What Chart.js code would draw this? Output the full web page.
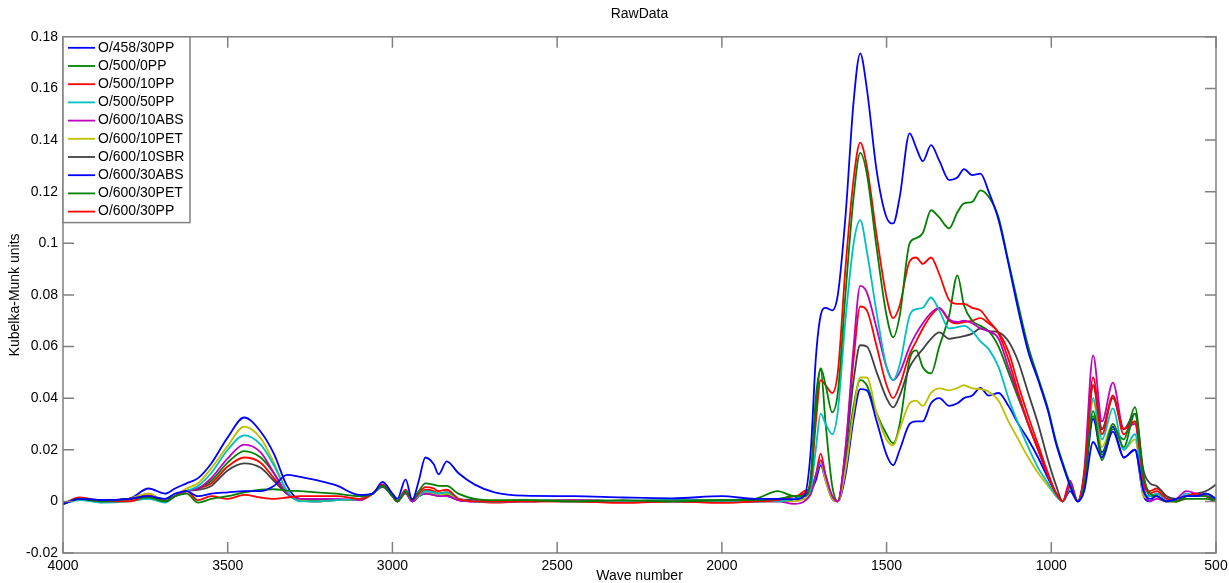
<!DOCTYPE html>
<html>
<head>
<meta charset="utf-8">
<title>RawData</title>
<script src="https://cdn.jsdelivr.net/npm/chart.js@4.4.0/dist/chart.umd.min.js"></script>
<style>
    html, body { margin: 0; padding: 0; background: #fff; }
    #chart_raw { display: block; }
</style>
</head>
<body>
<canvas id="chart_raw" width="1229" height="583"></canvas>
<script>
// Eixo x (numero de onda, decrescente) e eixo y
var waveNumbers = [4000, 3950, 3880, 3800, 3740, 3690, 3660, 3625, 3590, 3550,
    3500, 3450, 3400, 3360, 3320, 3280, 3230, 3170, 3100, 3060,
    3030, 3000, 2985, 2960, 2940, 2920, 2900, 2875, 2860, 2835,
    2800, 2750, 2690, 2600, 2450, 2300, 2150, 2000, 1900, 1830,
    1780, 1750, 1730, 1715, 1700, 1685, 1665, 1648, 1625, 1600,
    1580, 1560, 1530, 1500, 1480, 1460, 1430, 1410, 1390, 1365,
    1340, 1310, 1285, 1265, 1240, 1215, 1190, 1160, 1130, 1100,
    1070, 1040, 1010, 985, 965, 943, 920, 900, 873, 846,
    813, 780, 746, 720, 700, 680, 650, 620, 590, 560,
    530, 500];
var xTicks = [4000, 3500, 3000, 2500, 2000, 1500, 1000, 500];
var yTicks = [-0.02, 0, 0.02, 0.04, 0.06, 0.08, 0.1, 0.12, 0.14, 0.16, 0.18];

var seriesLabels = ['O/458/30PP', 'O/500/0PP', 'O/500/10PP', 'O/500/50PP', 'O/600/10ABS',
    'O/600/10PET', 'O/600/10SBR', 'O/600/30ABS', 'O/600/30PET', 'O/600/30PP'];

var o458_30pp = [-0.001, 0.001, 0.0005, 0.001, 0.002, 0.001, 0.003, 0.004, 0.002, 0.003,
    0.0035, 0.004, 0.004, 0.006, 0.0103, 0.0095, 0.0082, 0.0062, 0.0025, 0.003,
    0.0075, 0.003, 0.001, 0.0085, 0.0005, 0.008, 0.017, 0.0145, 0.0105, 0.0155,
    0.011, 0.0065, 0.0035, 0.0022, 0.002, 0.0015, 0.0012, 0.002, 0.001, 0.001,
    0.0008, 0.002, 0.02, 0.055, 0.072, 0.075, 0.074, 0.08, 0.11, 0.155,
    0.1736, 0.16, 0.128, 0.11, 0.1077, 0.118, 0.1426, 0.137, 0.1318, 0.138,
    0.132, 0.1245, 0.1255, 0.1287, 0.1264, 0.127, 0.12, 0.109, 0.092, 0.074,
    0.058, 0.047, 0.035, 0.022, 0.014, 0.006, 0.0, 0.004, 0.023, 0.017,
    0.027, 0.017, 0.02, 0.004, 0.001, 0.002, 0.0, 0.001, 0.002, 0.002,
    0.003, 0.001];

var o500_0pp = [-0.001, 0.001, 0.0, 0.001, 0.0015, 0.0, 0.002, 0.003, -0.0005, 0.001,
    0.002, 0.0035, 0.0045, 0.0047, 0.0042, 0.004, 0.0035, 0.003, 0.002, 0.003,
    0.006, 0.002, 0.0, 0.004, 0.001, 0.004, 0.007, 0.0065, 0.006, 0.006,
    0.003, 0.001, 0.0005, 0.0005, 0.0, 0.0005, 0.0, 0.0005, 0.0005, 0.001,
    0.002, 0.002, 0.008, 0.035, 0.0516, 0.045, 0.0345, 0.042, 0.08, 0.118,
    0.135, 0.127, 0.098, 0.072, 0.0636, 0.072, 0.1, 0.102, 0.104, 0.1128,
    0.11, 0.1058, 0.112, 0.1155, 0.116, 0.1205, 0.118, 0.11, 0.093, 0.076,
    0.06, 0.048, 0.036, 0.023, 0.015, 0.007, 0.0, 0.006, 0.035, 0.018,
    0.03, 0.021, 0.034, 0.01, 0.003, 0.002, 0.0, 0.0, 0.002, 0.002,
    0.002, 0.0];

var o500_10pp = [-0.001, 0.001, 0.0, 0.0, 0.002, 0.0, 0.002, 0.004, 0.0005, 0.002,
    0.001, 0.0025, 0.0015, 0.001, 0.0015, 0.002, 0.002, 0.002, 0.001, 0.003,
    0.0065, 0.002, 0.0, 0.004, 0.0005, 0.003, 0.0055, 0.005, 0.004, 0.0045,
    0.001, 0.0, 0.0, 0.0, 0.0, -0.0005, 0.0, -0.0005, 0.0, 0.0005,
    0.002, 0.003, 0.008, 0.03, 0.047, 0.045, 0.042, 0.05, 0.09, 0.125,
    0.139, 0.13, 0.103, 0.079, 0.071, 0.076, 0.093, 0.0945, 0.092, 0.0945,
    0.088, 0.078, 0.0765, 0.0765, 0.075, 0.074, 0.07, 0.065, 0.055, 0.042,
    0.03, 0.02, 0.01, 0.003, 0.0, 0.006, 0.0, 0.01, 0.045, 0.026,
    0.041, 0.028, 0.031, 0.008, 0.003, 0.004, 0.001, 0.0, 0.002, 0.003,
    0.002, 0.0];

var o500_50pp = [-0.001, 0.0005, -0.0005, 0.0, 0.001, -0.0005, 0.002, 0.004, 0.006, 0.011,
    0.02, 0.0256, 0.022, 0.014, 0.004, 0.0, 0.0, 0.0005, 0.001, 0.003,
    0.006, 0.002, 0.0, 0.004, 0.0005, 0.002, 0.004, 0.0035, 0.003, 0.0035,
    0.001, 0.0, 0.0, 0.0005, 0.0, 0.0, 0.0005, 0.0, 0.0, 0.0,
    0.001, 0.002, 0.005, 0.02, 0.034, 0.03, 0.026, 0.035, 0.07, 0.1,
    0.109, 0.097, 0.073, 0.052, 0.047, 0.053, 0.072, 0.0745, 0.075, 0.079,
    0.074, 0.067, 0.0675, 0.068, 0.066, 0.062, 0.059, 0.052, 0.04, 0.03,
    0.021, 0.013, 0.007, 0.002, 0.0, 0.005, 0.0, 0.008, 0.04, 0.024,
    0.036, 0.02, 0.026, 0.004, 0.002, 0.003, 0.001, 0.0, 0.003, 0.002,
    0.003, 0.001];

var o600_10abs = [-0.001, 0.001, 0.0, 0.001, 0.002, 0.0, 0.002, 0.004, 0.005, 0.009,
    0.0167, 0.022, 0.019, 0.011, 0.003, 0.001, 0.001, 0.001, 0.0005, 0.003,
    0.006, 0.002, 0.0, 0.0035, 0.0, 0.002, 0.003, 0.0025, 0.002, 0.002,
    0.0005, 0.0, 0.0, 0.0, 0.0005, 0.0, 0.0, 0.0, 0.0, 0.0,
    -0.001, 0.0, 0.003, 0.01, 0.016, 0.01, 0.002, 0.0, 0.02, 0.06,
    0.0835, 0.081, 0.067, 0.052, 0.047, 0.05, 0.06, 0.065, 0.069, 0.073,
    0.075, 0.0705, 0.0695, 0.07, 0.069, 0.067, 0.066, 0.063, 0.052, 0.041,
    0.03, 0.02, 0.01, 0.003, 0.0, 0.008, 0.0, 0.012, 0.0566, 0.031,
    0.046, 0.028, 0.03, 0.006, 0.0, 0.001, 0.0, 0.001, 0.004, 0.003,
    0.002, 0.001];

var o600_10pet = [-0.001, 0.001, 0.0, 0.001, 0.003, 0.0, 0.002, 0.005, 0.007, 0.0128,
    0.0215, 0.029, 0.0245, 0.015, 0.004, 0.0005, 0.0, 0.0005, 0.0005, 0.003,
    0.006, 0.002, 0.0, 0.0035, 0.0005, 0.002, 0.003, 0.003, 0.002, 0.003,
    0.001, 0.0, 0.0, 0.0, 0.0005, 0.0, 0.0, 0.0, 0.0, 0.0005,
    0.0, 0.001, 0.003, 0.01, 0.015, 0.008, 0.001, 0.0, 0.012, 0.035,
    0.048, 0.048, 0.034, 0.024, 0.0217, 0.028, 0.038, 0.039, 0.037, 0.042,
    0.0438, 0.043, 0.044, 0.045, 0.0438, 0.0435, 0.0425, 0.039, 0.031, 0.024,
    0.017, 0.011, 0.006, 0.002, 0.0, 0.007, 0.0, 0.008, 0.039, 0.021,
    0.03, 0.02, 0.024, 0.002, 0.001, 0.002, 0.0, 0.0, 0.002, 0.002,
    0.002, 0.001];

var o600_10sbr = [-0.001, 0.001, 0.0, 0.001, 0.002, 0.0, 0.002, 0.004, 0.0045, 0.006,
    0.012, 0.0147, 0.013, 0.008, 0.003, 0.0005, 0.0, 0.0005, 0.0005, 0.003,
    0.0055, 0.002, 0.0, 0.003, 0.0, 0.002, 0.003, 0.0025, 0.002, 0.0025,
    0.001, 0.0005, 0.0, 0.0005, 0.0, 0.0, 0.0005, 0.0, 0.0, 0.0005,
    0.001, 0.001, 0.003, 0.01, 0.015, 0.009, 0.001, 0.0, 0.018, 0.047,
    0.0605, 0.06, 0.05, 0.04, 0.0364, 0.041, 0.052, 0.056, 0.059, 0.063,
    0.0655, 0.063, 0.0635, 0.064, 0.065, 0.067, 0.066, 0.0655, 0.062, 0.054,
    0.042, 0.03, 0.016, 0.006, 0.0, 0.006, 0.0, 0.01, 0.045, 0.028,
    0.04, 0.028, 0.034, 0.012, 0.007, 0.006, 0.002, 0.001, 0.002, 0.003,
    0.004, 0.0065];

var o600_30abs = [-0.001, 0.001, 0.0005, 0.001, 0.005, 0.003, 0.005, 0.007, 0.009, 0.0147,
    0.0248, 0.0325, 0.027, 0.0185, 0.006, 0.0005, 0.0, 0.0005, 0.0005, 0.003,
    0.0065, 0.002, 0.0, 0.004, 0.0, 0.002, 0.003, 0.003, 0.002, 0.002,
    0.0005, 0.0, 0.0, 0.0, 0.0005, 0.0, 0.0, 0.0, 0.0, 0.0005,
    0.001, 0.003, 0.004, 0.008, 0.014, 0.008, 0.001, 0.0, 0.01, 0.032,
    0.0435, 0.043, 0.031, 0.018, 0.014, 0.02, 0.03, 0.031, 0.031, 0.038,
    0.04, 0.037, 0.038, 0.04, 0.041, 0.044, 0.041, 0.042, 0.037, 0.03,
    0.024, 0.017, 0.009, 0.003, 0.0, 0.004, 0.0, 0.006, 0.032, 0.019,
    0.029, 0.017, 0.02, 0.002, 0.0, 0.003, 0.001, 0.0, 0.002, 0.003,
    0.002, 0.0];

var o600_30pet = [-0.001, 0.001, 0.0, 0.001, 0.002, 0.001, 0.002, 0.004, 0.005, 0.008,
    0.015, 0.0195, 0.017, 0.011, 0.003, 0.0005, 0.0005, 0.0005, 0.0005, 0.003,
    0.006, 0.002, 0.0, 0.0035, 0.0005, 0.002, 0.004, 0.0035, 0.003, 0.0035,
    0.001, 0.0, 0.0, 0.0, 0.0005, 0.0, 0.0005, 0.0005, 0.001, 0.004,
    0.002, 0.002, 0.01, 0.04, 0.051, 0.03, 0.006, 0.0, 0.015, 0.037,
    0.047, 0.045, 0.034, 0.026, 0.0225, 0.03, 0.055, 0.0585, 0.052, 0.0496,
    0.06, 0.072, 0.0876, 0.076, 0.07, 0.068, 0.066, 0.06, 0.05, 0.04,
    0.03, 0.02, 0.01, 0.003, 0.0, 0.007, 0.0, 0.009, 0.033, 0.016,
    0.028, 0.024, 0.0365, 0.01, 0.002, 0.002, 0.0, 0.0, 0.001, 0.001,
    0.001, 0.0];

var o600_30pp = [-0.001, 0.0015, 0.0, 0.0005, 0.003, 0.0, 0.002, 0.004, 0.005, 0.007,
    0.0135, 0.017, 0.015, 0.009, 0.003, 0.001, 0.0005, 0.0005, 0.0005, 0.003,
    0.006, 0.002, 0.0, 0.0045, 0.0, 0.002, 0.0045, 0.004, 0.003, 0.0035,
    0.0005, 0.0, -0.0005, 0.0, 0.0, -0.0005, 0.0, -0.0005, 0.0, 0.0,
    0.001, 0.004, 0.005, 0.01, 0.0185, 0.01, 0.002, 0.0, 0.02, 0.055,
    0.0755, 0.074, 0.06, 0.045, 0.04, 0.045, 0.057, 0.062, 0.067, 0.072,
    0.0748, 0.07, 0.069, 0.0695, 0.07, 0.071, 0.069, 0.0655, 0.058, 0.045,
    0.033, 0.022, 0.011, 0.003, 0.0, 0.007, 0.0, 0.01, 0.048, 0.028,
    0.041, 0.026, 0.031, 0.006, 0.004, 0.005, 0.002, 0.0, 0.002, 0.002,
    0.003, 0.001];

var seriesValues = [o458_30pp, o500_0pp, o500_10pp, o500_50pp, o600_10abs,
    o600_10pet, o600_10sbr, o600_30abs, o600_30pet, o600_30pp];

// cores padrao do MATLAB
var cores = ['#0000ff', '#008000', '#ff0000', '#00bfbf', '#bf00bf',
    '#bfbf00', '#404040', '#0000ff', '#008000', '#ff0000'];

var fonte = 'Arial, "Liberation Sans", sans-serif';

function pontos(valores) {
    return waveNumbers.map(function (wn, i) {
        return { x: wn, y: valores[i] };
    });
}

let datasets = [];
for (i = 0; i < seriesLabels.length; i++) {
    datasets.push({
        label: seriesLabels[i],
        data: pontos(seriesValues[i]),
        borderColor: cores[i],
        backgroundColor: cores[i],
        borderWidth: 1.8,
        pointRadius: 0,
        fill: false,
        cubicInterpolationMode: 'monotone'
    });
}

// moldura com ticks para dentro (estilo MATLAB)
const moldura = {
    id: 'moldura',
    afterDatasetsDraw(chart) {
        const ctx = chart.ctx;
        const a = chart.chartArea;
        const x = chart.scales.x;
        const y = chart.scales.y;
        ctx.save();
        ctx.strokeStyle = '#808080';
        ctx.lineWidth = 1.5;
        ctx.beginPath();
        xTicks.forEach(function (v) {
            const px = x.getPixelForValue(v);
            ctx.moveTo(px, a.bottom); ctx.lineTo(px, a.bottom - 11);
            ctx.moveTo(px, a.top); ctx.lineTo(px, a.top + 11);
        });
        yTicks.forEach(function (v) {
            const py = y.getPixelForValue(v);
            ctx.moveTo(a.left, py); ctx.lineTo(a.left + 11, py);
            ctx.moveTo(a.right, py); ctx.lineTo(a.right - 11, py);
        });
        ctx.stroke();
        ctx.strokeRect(a.left, a.top, a.right - a.left, a.bottom - a.top);
        ctx.restore();
    }
};

// legenda dentro do grafico, canto superior esquerdo
const legendaInterna = {
    id: 'legendaInterna',
    afterDraw(chart) {
        const ctx = chart.ctx;
        const a = chart.chartArea;
        const passo = 18.2;
        const alturaCaixa = 11 + passo * (datasets.length - 1) + 11;
        ctx.save();
        ctx.fillStyle = '#ffffff';
        ctx.fillRect(a.left, a.top, 127, alturaCaixa);
        ctx.strokeStyle = '#808080';
        ctx.lineWidth = 1.5;
        ctx.strokeRect(a.left, a.top, 127, alturaCaixa);
        ctx.font = '14px ' + fonte;
        ctx.textBaseline = 'middle';
        ctx.textAlign = 'left';
        chart.data.datasets.forEach(function (ds, i) {
            const yy = a.top + 11 + passo * i;
            ctx.strokeStyle = ds.borderColor;
            ctx.lineWidth = 1.8;
            ctx.beginPath();
            ctx.moveTo(a.left + 5, yy);
            ctx.lineTo(a.left + 32, yy);
            ctx.stroke();
            ctx.fillStyle = '#000';
            ctx.fillText(ds.label, a.left + 35, yy);
        });
        ctx.restore();
    }
};

const config_raw = {
    type: 'line',
    data: { datasets: datasets },
    options: {
        responsive: false,
        animation: false,
        layout: { padding: { left: 0, right: 13, top: 0, bottom: 0 } },
        plugins: {
            legend: { display: false },
            tooltip: { enabled: false },
            title: {
                display: true,
                text: 'RawData',
                fullSize: false,
                color: '#000',
                font: { family: fonte, size: 14, weight: 'normal' },
                padding: { top: 6, bottom: 14 }
            }
        },
        scales: {
            x: {
                type: 'linear',
                reverse: true,
                min: 500,
                max: 4000,
                afterBuildTicks: function (scale) {
                    scale.ticks = xTicks.map(function (v) { return { value: v }; });
                },
                ticks: {
                    color: '#000',
                    font: { family: fonte, size: 14 },
                    padding: 5,
                    maxRotation: 0,
                    autoSkip: false,
                    callback: function (v) { return String(v); }
                },
                grid: { display: false, drawTicks: false },
                border: { display: false },
                title: {
                    display: true,
                    text: 'Wave number',
                    color: '#000',
                    font: { family: fonte, size: 14 },
                    padding: { top: 0, bottom: -2 }
                },
                afterFit: function (scale) {
                    scale.height = 30;
                    scale.paddingLeft = 0;
                    scale.paddingRight = 0;
                }
            },
            y: {
                min: -0.02,
                max: 0.18,
                afterBuildTicks: function (scale) {
                    scale.ticks = yTicks.map(function (v) { return { value: v }; });
                },
                ticks: {
                    color: '#000',
                    font: { family: fonte, size: 14 },
                    padding: 5,
                    autoSkip: false,
                    callback: function (v) { return String(parseFloat(Number(v).toFixed(2))); }
                },
                grid: { display: false, drawTicks: false },
                border: { display: false },
                title: {
                    display: true,
                    text: 'Kubelka-Munk units',
                    color: '#000',
                    font: { family: fonte, size: 14 },
                    padding: { top: 7, bottom: 0 }
                },
                afterFit: function (scale) { scale.width = 63; }
            }
        }
    },
    plugins: [moldura, legendaInterna]
};

const chart_raw = new Chart(
    document.getElementById('chart_raw'),
    config_raw
);
</script>
</body>
</html>
